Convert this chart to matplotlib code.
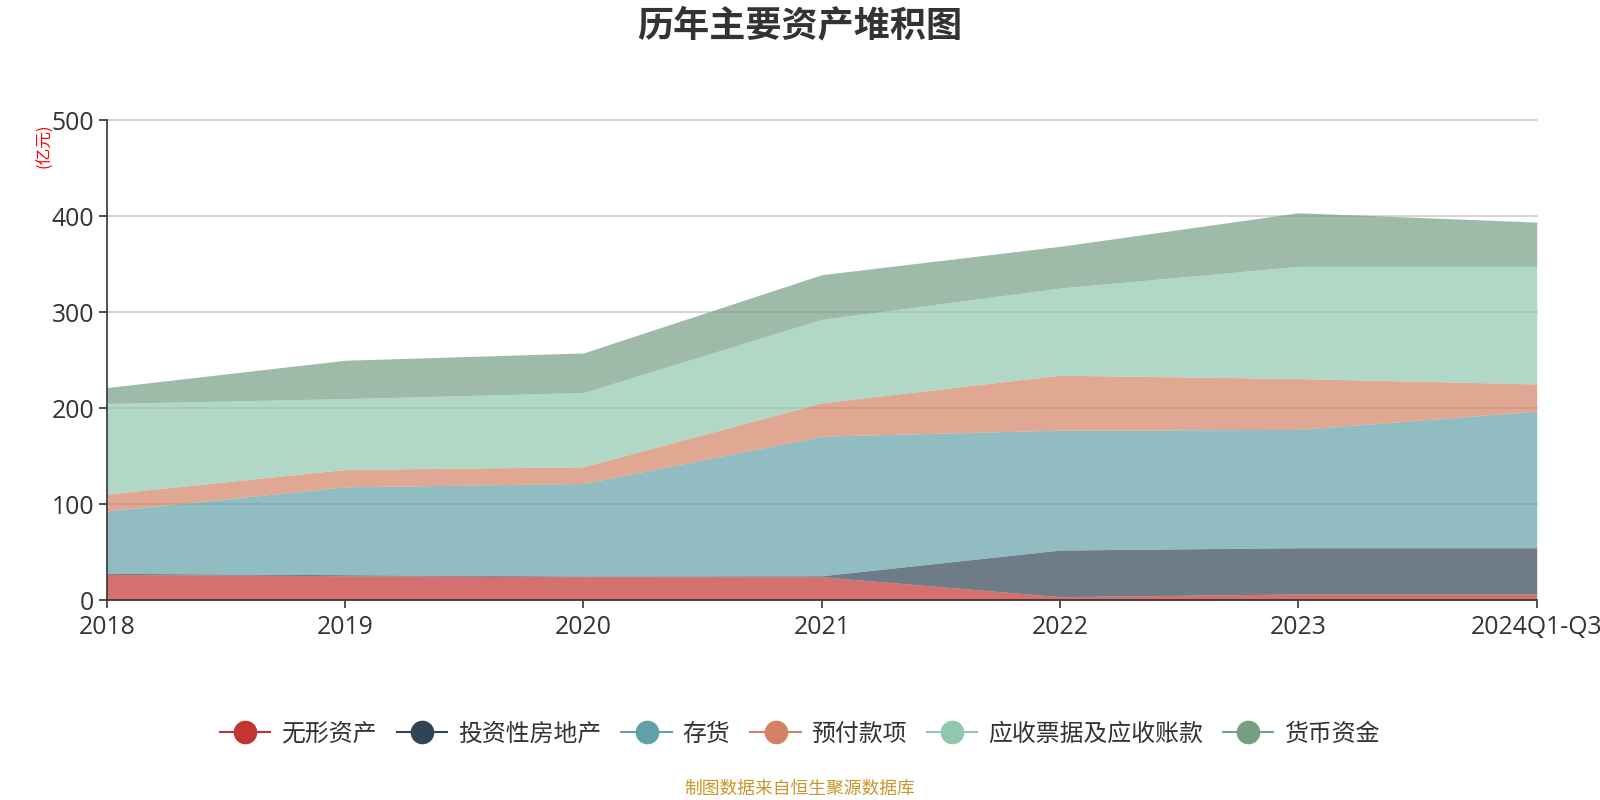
import matplotlib
matplotlib.use('Agg')
import matplotlib.pyplot as plt
from matplotlib.lines import Line2D
import numpy as np

plt.rcParams['font.family'] = ['Noto Sans CJK SC', 'DejaVu Sans']

years = ['2018', '2019', '2020', '2021', '2022', '2023', '2024Q1-Q3']

# 单位: 亿元
intangible = [26.7, 25.3, 24.3, 24.3, 3.5, 6.3, 6.3]
invest_property = [1.1, 1.1, 0.7, 1.0, 48.6, 48.2, 48.2]
inventory = [64.9, 91.6, 96.5, 145.5, 125.0, 123.3, 142.4]
prepayments = [17.7, 18.1, 17.4, 34.8, 57.3, 53.1, 28.4]
receivables = [94.5, 73.9, 77.4, 87.1, 90.9, 117.0, 122.6]
cash = [16.6, 40.0, 41.3, 46.5, 43.5, 55.9, 46.2]

names = ['无形资产', '投资性房地产', '存货', '预付款项', '应收票据及应收账款', '货币资金']
colors = ['#c23531', '#2f4554', '#61a0a8', '#d48265', '#91c7ae', '#749f83']

def main():
  series = [intangible, invest_property, inventory, prepayments, receivables, cash]
  x = np.arange(len(years))

  fig = plt.figure(figsize=(16, 8), dpi=100)
  ax = fig.add_axes([106.7 / 1600, 0.25, (1536.7 - 106.7) / 1600, (600 - 120.5) / 800])

  bottom = np.zeros(len(years))
  for vals, c in zip(series, colors):
    top = bottom + np.array(vals)
    ax.fill_between(x, bottom, top, color=c, alpha=0.7, lw=0)
    bottom = top

  ax.set_xlim(0, len(years) - 1)
  ax.set_ylim(0, 500)
  ax.set_yticks(range(0, 501, 100))
  ax.set_xticks(x)
  ax.set_xticklabels(years)
  ax.set_axisbelow(True)
  ax.grid(axis='y', color='#cccccc', lw=1.2)
  ax.grid(axis='x', visible=False)
  for gl in ax.get_ygridlines():
    gl.set_clip_on(False)

  for s in ['top', 'right']:
    ax.spines[s].set_visible(False)
  for s in ['left', 'bottom']:
    ax.spines[s].set_color('#333333')
    ax.spines[s].set_linewidth(1.2)
  ax.tick_params(axis='both', colors='#333333', labelsize=17.8, length=6, width=1.2)
  ax.tick_params(axis='x', pad=5)
  ax.tick_params(axis='y', pad=3)
  for lab in ax.get_xticklabels() + ax.get_yticklabels():
    lab.set_family(['Open Sans', 'Noto Sans CJK SC'])

  fig.text(0.5, 1 - 26 / 800, '历年主要资产堆积图', ha='center', va='center',
           fontsize=26, fontweight='bold', color='#333333')
  fig.text(45 / 1600, 1 - 146 / 800, '(亿元)', ha='center', va='center',
           rotation=90, fontsize=12, color='red')

  handles = [Line2D([0], [0], color=c, lw=1.5, marker='o', markersize=16) for c in colors]
  leg = fig.legend(handles, names, loc='center', bbox_to_anchor=(0.5, 1 - 734 / 800),
                   ncol=6, frameon=False, fontsize=17.2, handlelength=2.1,
                   handletextpad=0.45, columnspacing=0.85)
  for t in leg.get_texts():
    t.set_color('#333333')

  fig.text(0.5, 1 - 789 / 800, '制图数据来自恒生聚源数据库', ha='center', va='center',
           fontsize=12.8, color='#c9962b')

  fig.savefig('out.png', dpi=100)

if __name__ == '__main__':
  main()
